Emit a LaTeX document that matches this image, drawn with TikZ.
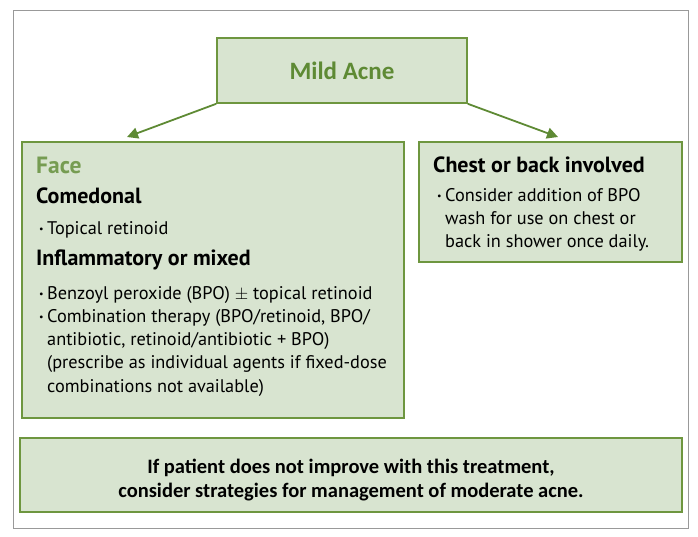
\documentclass[tikz,border=0pt]{standalone}
\usepackage{fontspec}
\setmainfont{PT Sans}
\newfontfamily\calib{Carlito}
\usetikzlibrary{arrows.meta}

\definecolor{acnefill}{HTML}{D8E4D0}
\definecolor{acneline}{HTML}{6E963F}
\definecolor{acnetext}{HTML}{5E8A34}

\tikzset{
  box/.style={draw=acneline, line width=1.6pt, fill=acnefill, inner sep=0pt},
  head/.style={anchor=base west, inner sep=0pt, font=\fontsize{22}{26}\selectfont\bfseries},
  body/.style={anchor=base west, inner sep=0pt, font=\fontsize{18.3}{23.4}\selectfont},
  link/.style={-{Triangle[length=11pt,width=11pt]}, acnetext, line width=1.8pt},
}
\newcommand{\blt}{\makebox[8pt][l]{\raisebox{1.5pt}{\fontsize{10}{10}\selectfont\textbullet}}}

\begin{document}
\begin{tikzpicture}[x=1pt, y=-1pt]
    \useasboundingbox (0,0) rectangle (698,536);
    \draw[black!40, line width=1pt] (13,10) rectangle (688,528);

    % boxes
    \node[box, minimum width=250pt, minimum height=65pt, text=acnetext,
          font=\calib\fontsize{25}{25}\selectfont\bfseries] (mild) at (342,70.5) {Mild Acne};
    \node[box, minimum width=382pt, minimum height=276pt] (face) at (213,280) {};
    \node[box, minimum width=263pt, minimum height=120pt] (chest) at (550.5,202) {};
    \node[box, minimum width=662pt, minimum height=74pt] (next) at (351,475) {};

    % arrows
    \coordinate (faceTip) at (127,137);
    \coordinate (chestTip) at (558,137);
    \draw[link] (mild.south west) -- (faceTip);
    \draw[link] (mild.south east) -- (chestTip);

    % face
    \node[head, text=acnetext!85, font=\fontsize{23.5}{26}\selectfont\bfseries] (faceH) at (36,173) {Face};
    \node[head] (comedH) at (36,203) {Comedonal};
    \node[body] (comedB) at (39,234) {\blt Topical retinoid};
    \node[head] (inflH) at (36,265) {Inflammatory or mixed};
    \node[body] (inflB1) at (39,299) {\blt Benzoyl peroxide (BPO) $\pm$ topical retinoid};
    \node[body] (inflB2) at (39,322) {\begin{tabular}[t]{@{}l@{}l@{}}
        \blt & Combination therapy (BPO/retinoid, BPO/\\
             & antibiotic, retinoid/antibiotic + BPO)\\
             & (prescribe as individual agents if fixed-dose\\
             & combinations not available)
        \end{tabular}};

    % chest or back
    \node[head] (chestH) at (433,172) {Chest or back involved};
    \node[body] (chestB) at (437,201) {\begin{tabular}[t]{@{}l@{}l@{}}
        \blt & Consider addition of BPO\\
             & wash for use on chest or\\
             & back in shower once daily.
        \end{tabular}};

    % bottom note
    \node[anchor=base, inner sep=0pt, font=\calib\fontsize{20.5}{24.5}\selectfont\bfseries] (nextT) at (351,473)
        {\begin{tabular}[t]{@{}c@{}}
        If patient does not improve with this treatment,\\
        consider strategies for management of moderate acne.
        \end{tabular}};
\end{tikzpicture}
\end{document}
